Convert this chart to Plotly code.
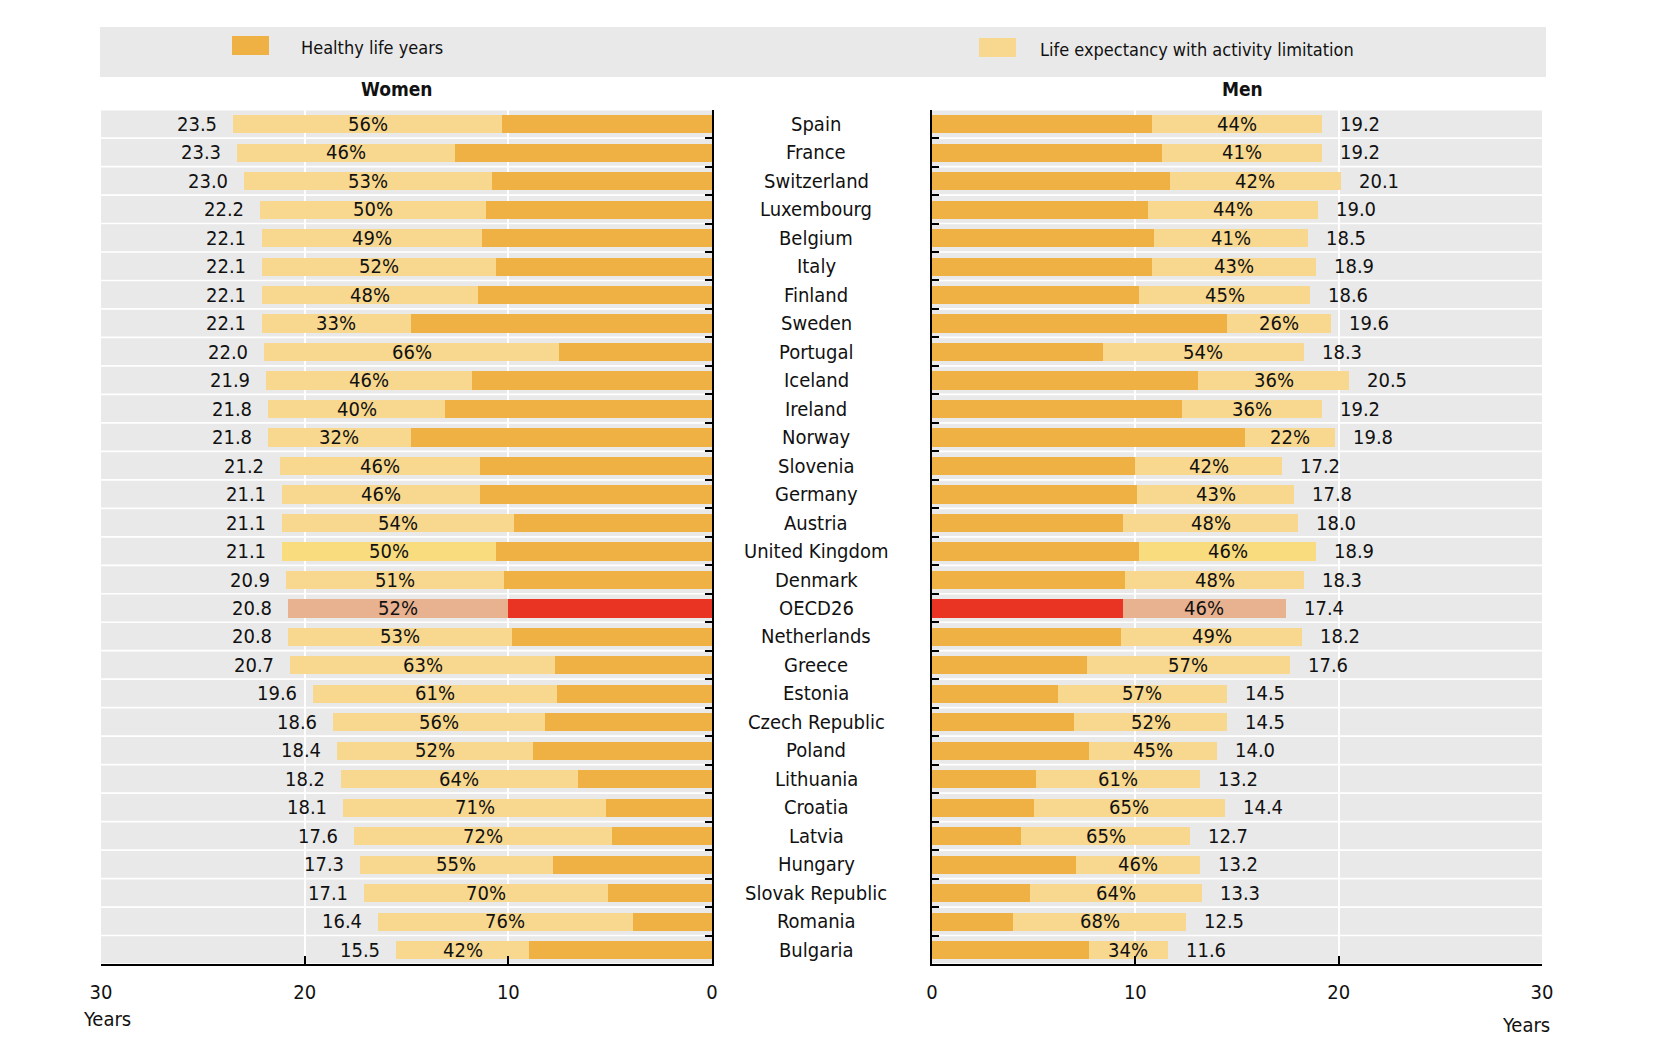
import plotly.graph_objects as go

# ---------------- data ----------------
countries = ["Spain", "France", "Switzerland", "Luxembourg", "Belgium", "Italy", "Finland",
             "Sweden", "Portugal", "Iceland", "Ireland", "Norway", "Slovenia", "Germany",
             "Austria", "United Kingdom", "Denmark", "OECD26", "Netherlands", "Greece",
             "Estonia", "Czech Republic", "Poland", "Lithuania", "Croatia", "Latvia",
             "Hungary", "Slovak Republic", "Romania", "Bulgaria"]

# Women: life expectancy at 65 (total), healthy life years, share with activity limitation (%)
women_total = [23.5, 23.3, 23.0, 22.2, 22.1, 22.1, 22.1, 22.1, 22.0, 21.9, 21.8, 21.8, 21.2,
               21.1, 21.1, 21.1, 20.9, 20.8, 20.8, 20.7, 19.6, 18.6, 18.4, 18.2, 18.1, 17.6,
               17.3, 17.1, 16.4, 15.5]
women_healthy = [10.3, 12.6, 10.8, 11.1, 11.3, 10.6, 11.5, 14.8, 7.5, 11.8, 13.1, 14.8, 11.4,
                 11.4, 9.7, 10.6, 10.2, 10.0, 9.8, 7.7, 7.6, 8.2, 8.8, 6.6, 5.2, 4.9,
                 7.8, 5.1, 3.9, 9.0]
women_limit_pct = [56, 46, 53, 50, 49, 52, 48, 33, 66, 46, 40, 32, 46, 46, 54, 50, 51, 52, 53,
                   63, 61, 56, 52, 64, 71, 72, 55, 70, 76, 42]

# Men
men_total = [19.2, 19.2, 20.1, 19.0, 18.5, 18.9, 18.6, 19.6, 18.3, 20.5, 19.2, 19.8, 17.2,
             17.8, 18.0, 18.9, 18.3, 17.4, 18.2, 17.6, 14.5, 14.5, 14.0, 13.2, 14.4, 12.7,
             13.2, 13.3, 12.5, 11.6]
men_healthy = [10.8, 11.3, 11.7, 10.6, 10.9, 10.8, 10.2, 14.5, 8.4, 13.1, 12.3, 15.4, 10.0,
               10.1, 9.4, 10.2, 9.5, 9.4, 9.3, 7.6, 6.2, 7.0, 7.7, 5.1, 5.0, 4.4,
               7.1, 4.8, 4.0, 7.7]
men_limit_pct = [44, 41, 42, 44, 41, 43, 45, 26, 54, 36, 36, 22, 42, 43, 48, 46, 48, 46, 49,
                 57, 57, 52, 45, 61, 65, 65, 46, 64, 68, 34]

x_ticks = [0, 10, 20, 30]
legend_labels = ["Healthy life years", "Life expectancy with activity limitation"]
panel_titles = ["Women", "Men"]
axis_unit = "Years"

# ---------------- style ----------------
W, H = 1668, 1060
FONT = ("'Liberation Sans Narrow', 'Arial Narrow', 'Noto Sans Condensed', "
        "'Noto Sans ExtraCondensed', 'DejaVu Sans Condensed', sans-serif")
DARK = "#f0b144"
LIGHT = "#f8d88e"
UK_LIGHT = "#f9dc7e"
OECD_DARK = "#e93424"
OECD_LIGHT = "#e8b190"
BAND = "#e9e9e9"
TXT = "#111111"
FS = 20


def px(x):
    return x / W


def py(y):
    return 1 - y / H


idx = list(range(len(countries)))
dark_cols = [OECD_DARK if c == "OECD26" else DARK for c in countries]
light_cols = [OECD_LIGHT if c == "OECD26" else (UK_LIGHT if c == "United Kingdom" else LIGHT)
              for c in countries]

women_limit = [t - h for t, h in zip(women_total, women_healthy)]
men_limit = [t - h for t, h in zip(men_total, men_healthy)]

fig = go.Figure()
BW = 0.64
fig.add_trace(go.Bar(x=women_healthy, y=idx, base=0, orientation="h", width=BW,
                     marker=dict(color=dark_cols, line=dict(width=0)),
                     xaxis="x", yaxis="y", showlegend=False, hoverinfo="skip"))
fig.add_trace(go.Bar(x=women_limit, y=idx, base=women_healthy, orientation="h", width=BW,
                     marker=dict(color=light_cols, line=dict(width=0)),
                     xaxis="x", yaxis="y", showlegend=False, hoverinfo="skip"))
fig.add_trace(go.Bar(x=men_healthy, y=idx, base=0, orientation="h", width=BW,
                     marker=dict(color=dark_cols, line=dict(width=0)),
                     xaxis="x2", yaxis="y2", showlegend=False, hoverinfo="skip"))
fig.add_trace(go.Bar(x=men_limit, y=idx, base=men_healthy, orientation="h", width=BW,
                     marker=dict(color=light_cols, line=dict(width=0)),
                     xaxis="x2", yaxis="y2", showlegend=False, hoverinfo="skip"))

shapes = []
annotations = []

# grey row bands
for i in idx:
    for xr, yr in (("x", "y"), ("x2", "y2")):
        shapes.append(dict(type="rect", xref=xr, yref=yr, x0=0, x1=30, y0=i - 0.47, y1=i + 0.47,
                           fillcolor=BAND, line=dict(width=0), layer="below"))

lab_font = dict(family=FONT, size=FS, color=TXT)

for i in idx:
    # women
    annotations.append(dict(x=(women_healthy[i] + women_total[i]) / 2, y=i, xref="x", yref="y",
                            text=f"{women_limit_pct[i]}%", showarrow=False, font=lab_font,
                            xanchor="center", yanchor="middle", yshift=0))
    annotations.append(dict(x=women_total[i], y=i, xref="x", yref="y",
                            text=f"{women_total[i]:.1f}", showarrow=False, font=lab_font,
                            xanchor="right", yanchor="middle", xshift=-14, yshift=0))
    # men
    annotations.append(dict(x=(men_healthy[i] + men_total[i]) / 2, y=i, xref="x2", yref="y2",
                            text=f"{men_limit_pct[i]}%", showarrow=False, font=lab_font,
                            xanchor="center", yanchor="middle", yshift=0))
    annotations.append(dict(x=men_total[i], y=i, xref="x2", yref="y2",
                            text=f"{men_total[i]:.1f}", showarrow=False, font=lab_font,
                            xanchor="left", yanchor="middle", xshift=16, yshift=0))
    # country
    annotations.append(dict(x=px(816), y=i, xref="paper", yref="y", text=countries[i],
                            showarrow=False, font=lab_font, xanchor="center", yanchor="middle",
                            yshift=0))

# legend block
shapes.append(dict(type="rect", xref="paper", yref="paper", x0=px(100), x1=px(1546),
                   y0=py(77), y1=py(27), fillcolor=BAND, line=dict(width=0), layer="below"))
shapes.append(dict(type="rect", xref="paper", yref="paper", x0=px(232), x1=px(269),
                   y0=py(55), y1=py(36), fillcolor=DARK, line=dict(width=0)))
shapes.append(dict(type="rect", xref="paper", yref="paper", x0=px(979), x1=px(1016),
                   y0=py(57), y1=py(38), fillcolor=LIGHT, line=dict(width=0)))
leg_font = dict(family=FONT, size=FS - 2, color=TXT)
annotations.append(dict(x=px(299), y=py(47), xref="paper", yref="paper", text=legend_labels[0],
                        showarrow=False, font=leg_font, xanchor="left", yanchor="middle"))
annotations.append(dict(x=px(1038), y=py(49), xref="paper", yref="paper", text=legend_labels[1],
                        showarrow=False, font=leg_font, xanchor="left", yanchor="middle"))

# panel titles
title_font = dict(family=FONT, size=FS - 1, color=TXT)
annotations.append(dict(x=px(397), y=py(89), xref="paper", yref="paper",
                        text=f"<b>{panel_titles[0]}</b>", showarrow=False, font=title_font,
                        xanchor="center", yanchor="middle"))
annotations.append(dict(x=px(1242), y=py(89), xref="paper", yref="paper",
                        text=f"<b>{panel_titles[1]}</b>", showarrow=False, font=title_font,
                        xanchor="center", yanchor="middle"))

# axis unit labels
annotations.append(dict(x=px(107), y=py(1019), xref="paper", yref="paper", text=axis_unit,
                        showarrow=False, font=lab_font, xanchor="center", yanchor="middle"))
annotations.append(dict(x=px(1526), y=py(1025), xref="paper", yref="paper", text=axis_unit,
                        showarrow=False, font=lab_font, xanchor="center", yanchor="middle"))

y_top, y_bot = 109.6, 964
boundaries = [i - 0.5 for i in range(len(countries) + 1)]

xcommon = dict(tickvals=x_ticks, ticks="inside", ticklen=8, tickwidth=2, tickcolor="black",
               showline=True, linecolor="black", linewidth=2, showgrid=True,
               gridcolor="white", gridwidth=2, zeroline=False, automargin=False,
               tickfont=dict(family=FONT, size=FS, color=TXT), ticklabelstandoff=9,
               fixedrange=True)
ycommon = dict(range=[len(countries) - 0.5, -0.5], tickvals=boundaries, ticks="inside",
               ticklen=7, tickwidth=2, tickcolor="black", showline=True, linecolor="black",
               linewidth=2, showgrid=False, zeroline=False, showticklabels=False,
               automargin=False, domain=[py(y_bot), py(y_top)], fixedrange=True)

fig.update_layout(
    template="none",
    width=W, height=H, autosize=False,
    margin=dict(l=0, r=0, t=0, b=0, pad=0, autoexpand=False),
    paper_bgcolor="white", plot_bgcolor="white",
    barmode="overlay", bargap=0,
    showlegend=False,
    font=dict(family=FONT, color=TXT),
    xaxis=dict(domain=[px(101), px(712)], range=[30, 0], anchor="y", **xcommon),
    xaxis2=dict(domain=[px(932), px(1542)], range=[0, 30], anchor="y2", **xcommon),
    yaxis=dict(anchor="x", side="right", **ycommon),
    yaxis2=dict(anchor="x2", side="left", **ycommon),
    shapes=shapes,
    annotations=annotations,
)

fig.write_html("out.html")
